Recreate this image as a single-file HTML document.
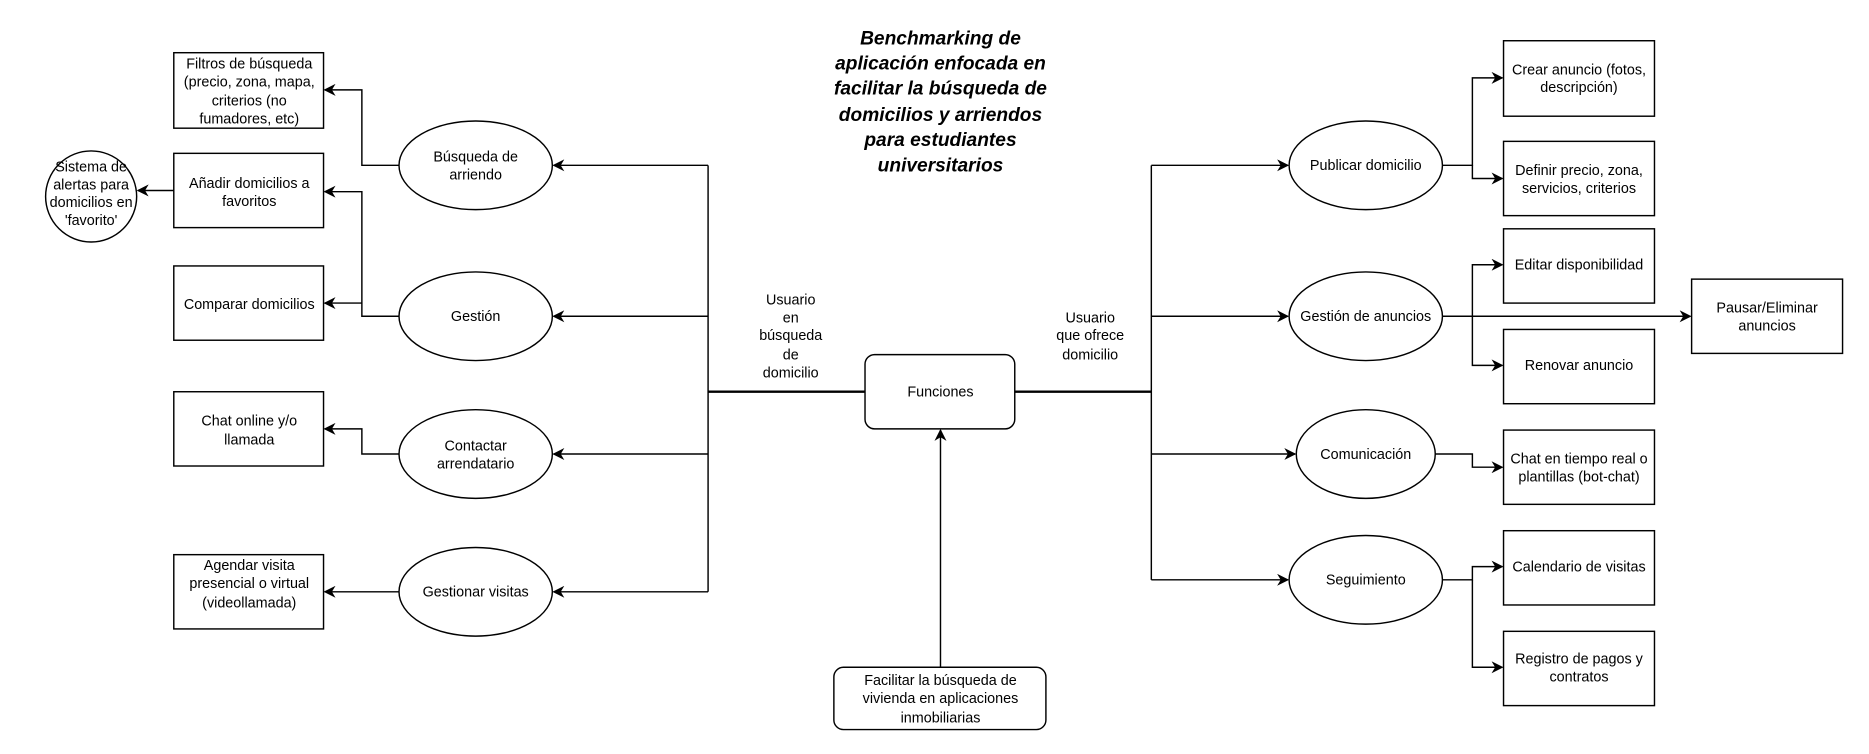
<!DOCTYPE html>
<html><head><meta charset="utf-8"><style>html,body{margin:0;padding:0;background:#fff}svg{display:block}</style></head>
<body>
<svg width="1869" height="754" viewBox="0 0 1560 629.4" xmlns="http://www.w3.org/2000/svg" font-family="'Liberation Sans', Arial, sans-serif" font-size="12" fill="none">
<defs><marker id="a" markerWidth="10" markerHeight="10" refX="9" refY="5" orient="auto" markerUnits="userSpaceOnUse"><path d="M0,0 L10,5 L0,10 L3,5 z" fill="#000"/></marker></defs>
<g stroke="#000" stroke-width="1.2">
<!-- left side connectors -->
<path d="M591,138 V494"/>
<path d="M591,327 H722" stroke-width="2"/>
<path d="M591,138 H462" marker-end="url(#a)"/>
<path d="M591,264 H462" marker-end="url(#a)"/>
<path d="M591,379 H462" marker-end="url(#a)"/>
<path d="M591,494 H462" marker-end="url(#a)"/>
<path d="M333,138 H302 V75 H271" marker-end="url(#a)"/>
<path d="M333,264 H302 V160 H271" marker-end="url(#a)"/>
<path d="M302,253 H271" marker-end="url(#a)"/>
<path d="M333,379 H302 V358 H271" marker-end="url(#a)"/>
<path d="M333,494 H271" marker-end="url(#a)"/>
<path d="M145,159 H115" marker-end="url(#a)"/>
<!-- center -->
<path d="M785,557 V359" marker-end="url(#a)"/>
<path d="M847,327 H961" stroke-width="2"/>
<path d="M961,138 V484"/>
<path d="M961,138 H1075" marker-end="url(#a)"/>
<path d="M961,264 H1075" marker-end="url(#a)"/>
<path d="M961,379 H1081" marker-end="url(#a)"/>
<path d="M961,484 H1075" marker-end="url(#a)"/>
<!-- right side -->
<path d="M1204,138 H1229 V65 H1254" marker-end="url(#a)"/>
<path d="M1229,138 V149 H1254" marker-end="url(#a)"/>
<path d="M1204,264 H1411" marker-end="url(#a)"/>
<path d="M1229,264 V221 H1254" marker-end="url(#a)"/>
<path d="M1229,264 V305 H1254" marker-end="url(#a)"/>
<path d="M1198,379 H1229 V390 H1254" marker-end="url(#a)"/>
<path d="M1204,484 H1229 V473 H1254" marker-end="url(#a)"/>
<path d="M1229,484 V557 H1254" marker-end="url(#a)"/>
<!-- shapes -->
<g fill="#fff">
<rect x="145" y="44" width="125" height="63"/>
<rect x="145" y="128" width="125" height="62"/>
<rect x="145" y="222" width="125" height="62"/>
<rect x="145" y="327" width="125" height="62"/>
<rect x="145" y="463" width="125" height="62"/>
<ellipse cx="76" cy="164" rx="38" ry="38"/>
<ellipse cx="397" cy="138" rx="64" ry="37"/>
<ellipse cx="397" cy="264" rx="64" ry="37"/>
<ellipse cx="397" cy="379" rx="64" ry="37"/>
<ellipse cx="397" cy="494" rx="64" ry="37"/>
<rect x="722" y="296" width="125" height="62" rx="8"/>
<rect x="696" y="557" width="177" height="52" rx="8"/>
<ellipse cx="1140" cy="138" rx="64" ry="37"/>
<ellipse cx="1140" cy="264" rx="64" ry="37"/>
<ellipse cx="1140" cy="379" rx="58" ry="37"/>
<ellipse cx="1140" cy="484" rx="64" ry="37"/>
<rect x="1255" y="34" width="126" height="63"/>
<rect x="1255" y="118" width="126" height="62"/>
<rect x="1255" y="191" width="126" height="62"/>
<rect x="1255" y="275" width="126" height="62"/>
<rect x="1255" y="359" width="126" height="62"/>
<rect x="1255" y="443" width="126" height="62"/>
<rect x="1255" y="527" width="126" height="62"/>
<rect x="1412" y="233" width="126" height="62"/>
</g>
</g>
<g fill="#000" text-anchor="middle">
<g font-weight="bold" font-style="italic" font-size="16">
<text x="785" y="37">Benchmarking de</text>
<text x="785" y="58">aplicación enfocada en</text>
<text x="785" y="79">facilitar la búsqueda de</text>
<text x="785" y="101">domicilios y arriendos</text>
<text x="785" y="122">para estudiantes</text>
<text x="785" y="143">universitarios</text>
</g>
<text x="208" y="57">Filtros de búsqueda</text>
<text x="208" y="72">(precio, zona, mapa,</text>
<text x="208" y="88">criterios (no</text>
<text x="208" y="103">fumadores, etc)</text>
<text x="208" y="157">Añadir domicilios a</text>
<text x="208" y="172">favoritos</text>
<text x="208" y="258">Comparar domicilios</text>
<text x="208" y="355">Chat online y/o</text>
<text x="208" y="371">llamada</text>
<text x="208" y="476">Agendar visita</text>
<text x="208" y="491">presencial o virtual</text>
<text x="208" y="507">(videollamada)</text>
<text x="76" y="143">Sistema de</text>
<text x="76" y="158">alertas para</text>
<text x="76" y="173">domicilios en</text>
<text x="76" y="188">'favorito'</text>
<text x="397" y="135">Búsqueda de</text>
<text x="397" y="150">arriendo</text>
<text x="397" y="268">Gestión</text>
<text x="397" y="376">Contactar</text>
<text x="397" y="391">arrendatario</text>
<text x="397" y="498">Gestionar visitas</text>
<text x="660" y="254">Usuario</text>
<text x="660" y="269">en</text>
<text x="660" y="284">búsqueda</text>
<text x="660" y="300">de</text>
<text x="660" y="315">domicilio</text>
<text x="910" y="269">Usuario</text>
<text x="910" y="284">que ofrece</text>
<text x="910" y="300">domicilio</text>
<text x="785" y="331">Funciones</text>
<text x="785" y="572">Facilitar la búsqueda de</text>
<text x="785" y="587">vivienda en aplicaciones</text>
<text x="785" y="603">inmobiliarias</text>
<text x="1140" y="142">Publicar domicilio</text>
<text x="1140" y="268">Gestión de anuncios</text>
<text x="1140" y="383">Comunicación</text>
<text x="1140" y="488">Seguimiento</text>
<text x="1318" y="62">Crear anuncio (fotos,</text>
<text x="1318" y="77">descripción)</text>
<text x="1318" y="146">Definir precio, zona,</text>
<text x="1318" y="161">servicios, criterios</text>
<text x="1318" y="225">Editar disponibilidad</text>
<text x="1318" y="309">Renovar anuncio</text>
<text x="1318" y="387">Chat en tiempo real o</text>
<text x="1318" y="402">plantillas (bot-chat)</text>
<text x="1318" y="477">Calendario de visitas</text>
<text x="1318" y="554">Registro de pagos y</text>
<text x="1318" y="569">contratos</text>
<text x="1475" y="261">Pausar/Eliminar</text>
<text x="1475" y="276">anuncios</text>
</g>
</svg>
</body></html>
